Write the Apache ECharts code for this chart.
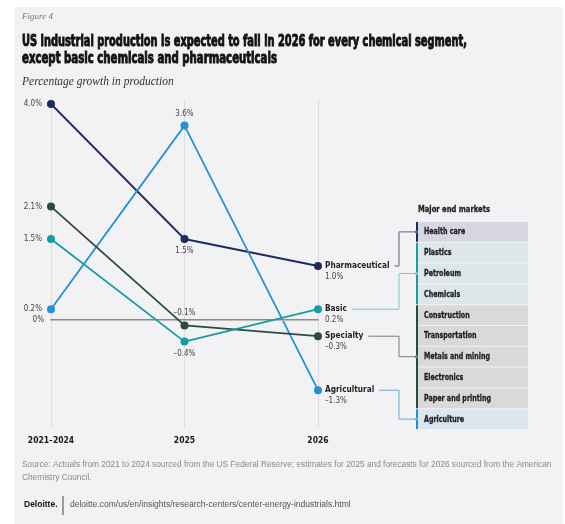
<!DOCTYPE html>
<html>
<head>
<meta charset="utf-8">
<script src="https://cdn.jsdelivr.net/npm/echarts@6/dist/echarts.min.js"></script>
<style>
  html, body { margin: 0; padding: 0; background: #ffffff; }
  #chart { width: 565px; height: 524px; }
</style>
</head>
<body>
<div id="chart"></div>
<script>
// Periods on the x axis
const periods = ['2021–2024', '2025', '2026'];

// Percentage growth in production per chemical segment
const segments = ['Pharmaceutical', 'Agricultural', 'Specialty', 'Basic'];
const pharmaceutical = [4.0, 1.5, 1.0];
const agricultural = [0.2, 3.6, -1.3];
const specialty = [2.1, -0.1, -0.3];
const basic = [1.5, -0.4, 0.2];

// Major end markets, grouped by the segment that serves them
const healthMarkets = ['Health care'];
const basicMarkets = ['Plastics', 'Petroleum', 'Chemicals'];
const specialtyMarkets = ['Construction', 'Transportation', 'Metals and mining', 'Electronics', 'Paper and printing'];
const agriMarkets = ['Agriculture'];

const seriesValues = {
  Pharmaceutical: pharmaceutical,
  Agricultural: agricultural,
  Specialty: specialty,
  Basic: basic
};
const seriesColors = {
  Pharmaceutical: '#1f2b5e',
  Agricultural: '#2590d4',
  Specialty: '#2d4a40',
  Basic: '#179ca4'
};
// where the 2025 value label sits relative to its point
const midLabelSide = {
  Pharmaceutical: 'bottom',
  Agricultural: 'top',
  Specialty: 'top',
  Basic: 'bottom'
};

const NARROW = '"DejaVu Sans Condensed", "Roboto", sans-serif';
const SERIF = '"Liberation Serif", "DejaVu Serif", serif';
const NAME_FONT_SIZE = 8.2;

// text width helper, used to fit condensed headings and place connectors
const measureCtx = document.createElement('canvas').getContext('2d');
function textWidth(text, font) {
  measureCtx.font = font;
  return measureCtx.measureText(text).width;
}

function pct(v) {
  const s = Math.abs(v) < 1e-9 ? '0' : Math.abs(v).toFixed(1);
  return (v < 0 ? '–' : '') + s + '%';
}

const chart = echarts.init(document.getElementById('chart'), null, { renderer: 'canvas' });

const series = segments.map(function (name, si) {
  const vals = seriesValues[name];
  const color = seriesColors[name];
  return {
    name: name,
    type: 'line',
    data: vals.map(function (v, i) {
      let label;
      if (i === 0) {
        label = { show: true, position: 'left', distance: 5, formatter: pct(v) };
      } else if (i === 1) {
        label = { show: true, position: midLabelSide[name], distance: 4, formatter: pct(v) };
      } else {
        label = {
          show: true, position: 'right', distance: 3, offset: [0, 5],
          formatter: '{n|' + name + '}\n{v|' + pct(v) + '}'
        };
      }
      return { value: v, label: label };
    }),
    symbol: 'circle',
    symbolSize: 8,
    z: 3 + si,
    lineStyle: { color: color, width: 1.8 },
    itemStyle: { color: color },
    label: {
      fontFamily: NARROW,
      fontSize: 8,
      color: '#444',
      rich: {
        n: { fontFamily: NARROW, fontSize: NAME_FONT_SIZE, fontWeight: 'bold', color: '#222', lineHeight: 11 },
        v: { fontFamily: NARROW, fontSize: 8, color: '#444', lineHeight: 11 }
      }
    },
    emphasis: { disabled: true },
    markLine: si === 0 ? {
      silent: true,
      symbol: 'none',
      label: { show: false },
      lineStyle: { color: '#bdbdbd', width: 1, type: 'solid' },
      data: [{ yAxis: 0 }]
    } : undefined
  };
});

const option = {
  backgroundColor: '#ffffff',
  animation: false,
  grid: { left: 51, right: 247, top: 98.6, bottom: 96, containLabel: false },
  xAxis: {
    type: 'category',
    data: periods,
    boundaryGap: false,
    axisLine: { show: true, lineStyle: { color: '#6a6a6a', width: 1.5 } },
    axisTick: { show: false },
    splitLine: { show: true, lineStyle: { color: '#dedee2', width: 1 } },
    axisLabel: {
      margin: 8,
      fontFamily: NARROW,
      fontWeight: 'bold',
      fontSize: 8.5,
      color: '#1a1a1a'
    }
  },
  yAxis: {
    type: 'value',
    min: -2,
    max: 4.1,
    interval: 1,
    axisLine: { show: false },
    axisTick: { show: false },
    splitLine: { show: false },
    axisLabel: {
      margin: 7,
      fontFamily: NARROW,
      fontSize: 8,
      color: '#444',
      showMinLabel: false,
      showMaxLabel: false,
      formatter: function (v) { return v === 0 ? '0%' : ''; }
    }
  },
  series: series
};

chart.setOption(option);

// condensed heading text, squeezed horizontally to a given width
function fittedText(text, x, y, font, width, fill, weight) {
  const s = width / textWidth(text, font);
  return {
    type: 'text', x: x, y: y, scaleX: s, scaleY: 1, originX: 0, originY: 0,
    style: {
      text: text, font: font, fill: fill, verticalAlign: 'top',
      stroke: weight ? fill : null, lineWidth: weight || 0
    }
  };
}

// Frame, titles, notes and the end-market table with its connectors
function buildGraphics() {
  const g = [];
  g.push({
    type: 'rect', z: -10, silent: true,
    shape: { x: 14, y: 7, width: 549, height: 520 },
    style: { fill: '#f2f2f4' }
  });
  g.push({ type: 'text', left: 22, top: 12, style: { text: 'Figure 4', font: 'italic 9px ' + SERIF, fill: '#777' } });
  const titleFont = 'bold 15.5px ' + NARROW;
  g.push(fittedText('US industrial production is expected to fall in 2026 for every chemical segment,', 22, 34, titleFont, 445, '#111', 0.9));
  g.push(fittedText('except basic chemicals and pharmaceuticals', 22, 51, titleFont, 255, '#111', 0.9));
  g.push({ type: 'text', left: 22, top: 76, style: { text: 'Percentage growth in production', font: 'italic 11.5px ' + SERIF, fill: '#333' } });

  g.push({ type: 'text', left: 22, top: 461, style: { text: 'Source: Actuals from 2021 to 2024 sourced from the US Federal Reserve; estimates for 2025 and forecasts for 2026 sourced from the American', font: '8.3px "Liberation Sans", sans-serif', fill: '#8a8a8a' } });
  g.push({ type: 'text', left: 22, top: 474, style: { text: 'Chemistry Council.', font: '8.3px "Liberation Sans", sans-serif', fill: '#8a8a8a' } });
  g.push({ type: 'text', left: 24, top: 500, style: { text: 'Deloitte.', font: 'bold 8.5px "Liberation Sans", sans-serif', fill: '#111' } });
  g.push({ type: 'line', shape: { x1: 63, y1: 496, x2: 63, y2: 515 }, style: { stroke: '#444', lineWidth: 1 } });
  g.push({ type: 'text', left: 70, top: 500, style: { text: 'deloitte.com/us/en/insights/research-centers/center-energy-industrials.html', font: '8.5px "Liberation Sans", sans-serif', fill: '#555' } });

  // end-market table
  const tableX = 416.5, tableW = 111.5, rowTop = 222, rowStep = 20.8, rowH = 19.8;
  const headFont = 'bold 9.5px ' + NARROW;
  g.push(fittedText('Major end markets', 418, 205, headFont, 72, '#222', 0.3));
  const rowFont = 'bold 9.5px ' + NARROW;
  const rowScale = 66 / textWidth('Metals and mining', rowFont);
  const groups = [
    { items: healthMarkets, fill: '#d7d7e3', bar: seriesColors.Pharmaceutical, from: 'Pharmaceutical', line: '#5b6180' },
    { items: basicMarkets, fill: '#dde7ea', bar: seriesColors.Basic, from: 'Basic', line: '#80c6ca' },
    { items: specialtyMarkets, fill: '#d9d9db', bar: seriesColors.Specialty, from: 'Specialty', line: '#7a7a7a' },
    { items: agriMarkets, fill: '#dce6f1', bar: seriesColors.Agricultural, from: 'Agricultural', line: '#5aaee2' }
  ];
  // row (within the group) the connector points at
  const connectorRow = { Pharmaceutical: 0, Basic: 1, Specialty: 2, Agricultural: 0 };
  let row = 0;
  groups.forEach(function (grp) {
    const start = row;
    grp.items.forEach(function (label) {
      const y = rowTop + row * rowStep;
      g.push({ type: 'rect', shape: { x: tableX, y: y, width: tableW, height: rowH }, style: { fill: grp.fill } });
      g.push({
        type: 'text', x: 424, y: y + rowH / 2, scaleX: rowScale, originX: 0,
        style: { text: label, font: rowFont, fill: '#1e1e1e', verticalAlign: 'middle', stroke: '#1e1e1e', lineWidth: 0.3 }
      });
      row++;
    });
    const y0 = rowTop + start * rowStep;
    const y1 = rowTop + (row - 1) * rowStep + rowH;
    g.push({ type: 'rect', z: 5, shape: { x: tableX - 0.5, y: y0, width: 2, height: y1 - y0 }, style: { fill: grp.bar } });

    // connector from the 2026 label to its end-market rows
    const vals = seriesValues[grp.from];
    const p = chart.convertToPixel({ xAxisIndex: 0, yAxisIndex: 0 }, [2, vals[2]]);
    const ly = p[1];
    const lx = p[0] + 4 + 3 + textWidth(grp.from, 'bold ' + NAME_FONT_SIZE + 'px ' + NARROW) + 5;
    const ty = rowTop + (start + connectorRow[grp.from]) * rowStep + rowH / 2;
    const bx = 399;
    g.push({
      type: 'polyline', z: 4,
      shape: { points: [[lx, ly], [bx, ly], [bx, ty], [tableX, ty]] },
      style: { stroke: grp.line, lineWidth: 1, fill: null }
    });
    g.push({ type: 'circle', z: 6, shape: { cx: tableX, cy: ty, r: 1.6 }, style: { fill: grp.line } });
  });
  return g;
}

chart.setOption({ graphic: buildGraphics() });
</script>
</body>
</html>
